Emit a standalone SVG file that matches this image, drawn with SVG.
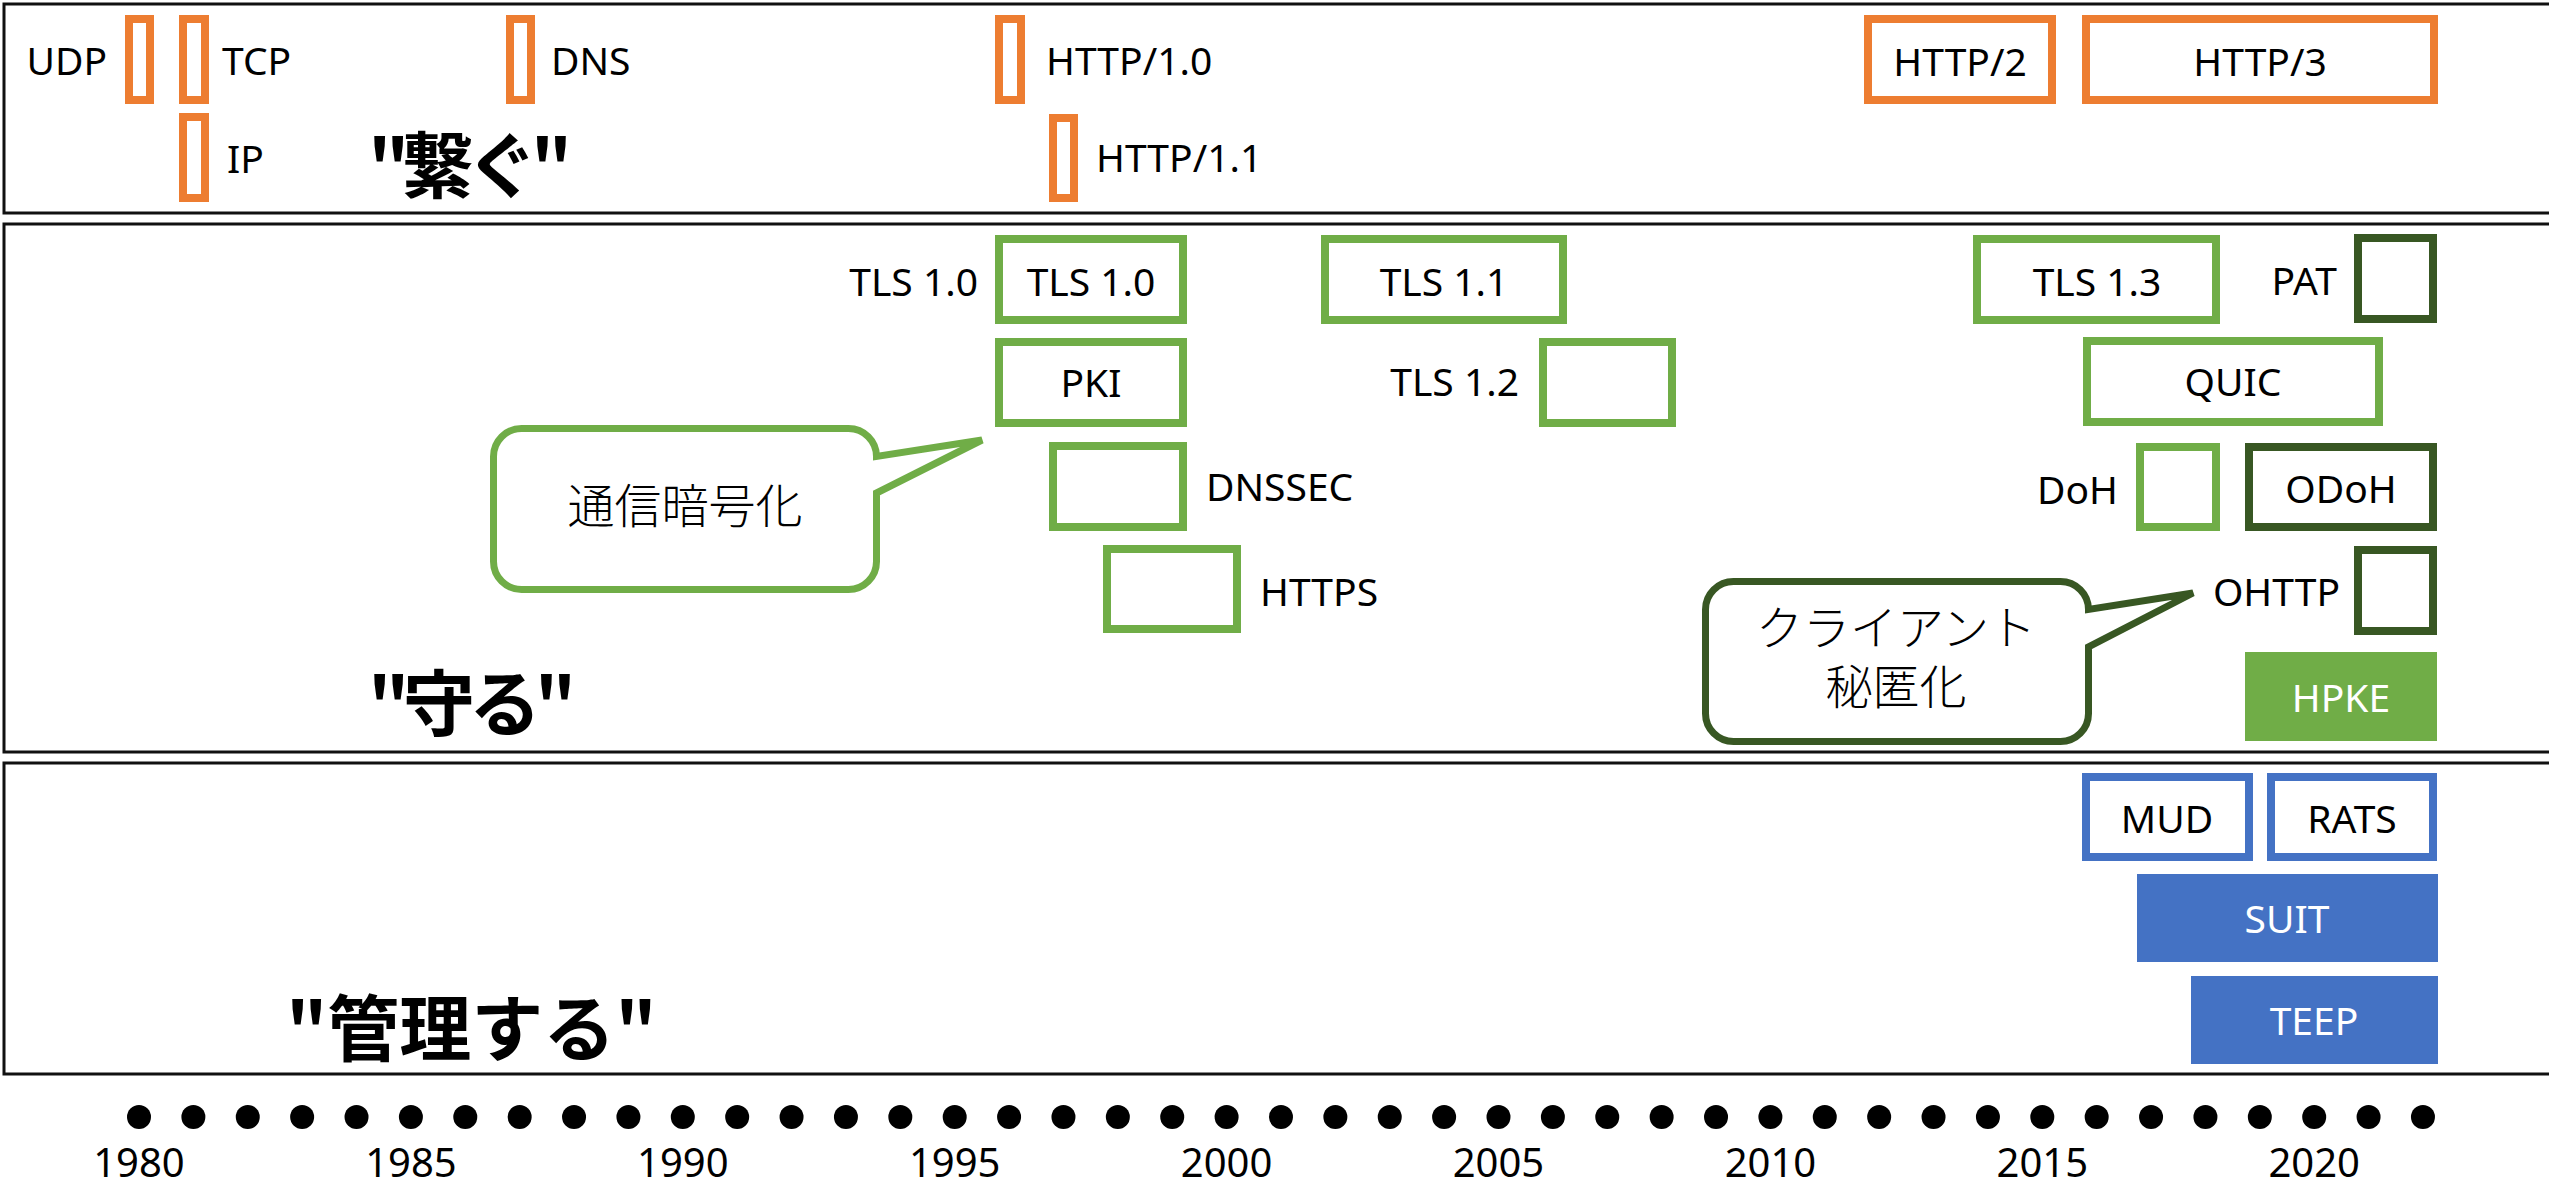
<svg xmlns="http://www.w3.org/2000/svg" width="2549" height="1187" viewBox="0 0 2549 1187">
<style>
.sec{fill:none;stroke:#111;stroke-width:3}
.or{fill:#fff;stroke:#ED7D31;stroke-width:8}
.gr{fill:#fff;stroke:#70AD47;stroke-width:8}
.dg{fill:#fff;stroke:#385723;stroke-width:8}
.bl{fill:#fff;stroke:#4472C4;stroke-width:8}
.gf{fill:#70AD47}
.bf{fill:#4472C4}
.t{font-family:"Noto Sans","Liberation Sans",sans-serif;font-size:39px;fill:#000}
.w{fill:#fff}
.c{text-anchor:middle}
.e{text-anchor:end}
.h{font-family:"Noto Sans CJK JP","Noto Sans",sans-serif;font-size:72px;font-weight:bold;fill:#000}
.j{font-family:"Noto Sans CJK JP","Noto Sans",sans-serif;font-size:47px;font-weight:300;fill:#000;text-anchor:middle}
.y{font-family:"Noto Sans","Liberation Sans",sans-serif;font-size:40px;fill:#000;text-anchor:middle}
.dot{fill:#000}
</style>
<rect width="2549" height="1187" fill="#fff"/>
<g id="sections">
<rect class="sec" x="4" y="4" width="2600" height="209"/>
<rect class="sec" x="4" y="224" width="2600" height="528"/>
<rect class="sec" x="4" y="763" width="2600" height="311"/>
<text class="h" x="368" y="192" textLength="204">"繋ぐ"</text>
<text class="h" x="368" y="730" textLength="208">"守る"</text>
<text class="h" x="286" y="1055">"管理する"</text>
</g>
<g id="connectors"></g>
<g id="udp"><rect class="or" x="129" y="19" width="21" height="81"/><text class="t e" x="107" y="75">UDP</text></g>
<g id="tcp"><rect class="or" x="183" y="19" width="22" height="81"/><text class="t" x="222" y="75">TCP</text></g>
<g id="ip"><rect class="or" x="183" y="117" width="22" height="81"/><text class="t" x="227" y="173">IP</text></g>
<g id="dns"><rect class="or" x="510" y="19" width="21" height="81"/><text class="t" x="551" y="75">DNS</text></g>
<g id="http10"><rect class="or" x="999" y="19" width="22" height="81"/><text class="t" x="1046" y="75">HTTP/1.0</text></g>
<g id="http11"><rect class="or" x="1053" y="118" width="21" height="80"/><text class="t" x="1096" y="172">HTTP/1.1</text></g>
<g id="http2"><rect class="or" x="1868" y="19" width="184" height="81"/><text class="t c" x="1960" y="76">HTTP/2</text></g>
<g id="http3"><rect class="or" x="2086" y="19" width="348" height="81"/><text class="t c" x="2260" y="76">HTTP/3</text></g>
<g id="tls10"><rect class="gr" x="999" y="239" width="184" height="81"/><text class="t c" x="1091" y="296">TLS 1.0</text><text class="t e" x="978" y="296">TLS 1.0</text></g>
<g id="pki"><rect class="gr" x="999" y="342" width="184" height="81"/><text class="t c" x="1091" y="397">PKI</text></g>
<g id="dnssec"><rect class="gr" x="1053" y="446" width="130" height="81"/><text class="t" x="1206" y="501">DNSSEC</text></g>
<g id="https"><rect class="gr" x="1107" y="549" width="130" height="80"/><text class="t" x="1260" y="606">HTTPS</text></g>
<g id="tls11"><rect class="gr" x="1325" y="239" width="238" height="81"/><text class="t c" x="1444" y="296">TLS 1.1</text></g>
<g id="tls12"><rect class="gr" x="1543" y="342" width="129" height="81"/><text class="t e" x="1519" y="396">TLS 1.2</text></g>
<g id="tls13"><rect class="gr" x="1977" y="239" width="239" height="81"/><text class="t c" x="2097" y="296">TLS 1.3</text></g>
<g id="pat"><rect class="dg" x="2358" y="238" width="75" height="81"/><text class="t e" x="2337" y="295">PAT</text></g>
<g id="quic"><rect class="gr" x="2087" y="341" width="292" height="81"/><text class="t c" x="2233" y="396">QUIC</text></g>
<g id="doh"><rect class="gr" x="2140" y="447" width="76" height="80"/><text class="t e" x="2118" y="504">DoH</text></g>
<g id="odoh"><rect class="dg" x="2249" y="447" width="184" height="80"/><text class="t c" x="2341" y="503">ODoH</text></g>
<g id="ohttp"><rect class="dg" x="2358" y="550" width="75" height="81"/><text class="t e" x="2340" y="606">OHTTP</text></g>
<g id="hpke"><rect class="gf" x="2245" y="652" width="192" height="89"/><text class="t c w" x="2341" y="712">HPKE</text></g>
<g id="callout-encrypt"><path d="M521.5 428.5 H848.5 A28 28 0 0 1 876.5 456.5 L982 440 L876.5 493 V561.5 A28 28 0 0 1 848.5 589.5 H521.5 A28 28 0 0 1 493.5 561.5 V456.5 A28 28 0 0 1 521.5 428.5 Z" fill="#fff" stroke="#70AD47" stroke-width="7" stroke-linejoin="miter"/><text class="j" x="685" y="523">通信暗号化</text></g>
<g id="callout-client"><path d="M1733.5 581.5 H2060.5 A28 28 0 0 1 2088.5 609.5 L2193 593 L2088.5 647 V713.5 A28 28 0 0 1 2060.5 741.5 H1733.5 A28 28 0 0 1 1705.5 713.5 V609.5 A28 28 0 0 1 1733.5 581.5 Z" fill="#fff" stroke="#385723" stroke-width="7"/><text class="j" x="1896" y="645">クライアント</text><text class="j" x="1896" y="704">秘匿化</text></g>
<g id="mud"><rect class="bl" x="2086" y="777" width="163" height="80"/><text class="t c" x="2167" y="833">MUD</text></g>
<g id="rats"><rect class="bl" x="2271" y="777" width="162" height="80"/><text class="t c" x="2352" y="833">RATS</text></g>
<g id="suit"><rect class="bf" x="2137" y="874" width="301" height="88"/><text class="t c w" x="2287" y="933">SUIT</text></g>
<g id="teep"><rect class="bf" x="2191" y="976" width="247" height="88"/><text class="t c w" x="2314" y="1035">TEEP</text></g>
<g id="timeline">
<circle class="dot" cx="139" cy="1117" r="12"/><circle class="dot" cx="193.38" cy="1117" r="12"/><circle class="dot" cx="247.76" cy="1117" r="12"/><circle class="dot" cx="302.14" cy="1117" r="12"/><circle class="dot" cx="356.52" cy="1117" r="12"/><circle class="dot" cx="410.9" cy="1117" r="12"/><circle class="dot" cx="465.28" cy="1117" r="12"/><circle class="dot" cx="519.66" cy="1117" r="12"/><circle class="dot" cx="574.04" cy="1117" r="12"/><circle class="dot" cx="628.42" cy="1117" r="12"/><circle class="dot" cx="682.8" cy="1117" r="12"/><circle class="dot" cx="737.18" cy="1117" r="12"/><circle class="dot" cx="791.56" cy="1117" r="12"/><circle class="dot" cx="845.94" cy="1117" r="12"/><circle class="dot" cx="900.32" cy="1117" r="12"/><circle class="dot" cx="954.7" cy="1117" r="12"/><circle class="dot" cx="1009.08" cy="1117" r="12"/><circle class="dot" cx="1063.46" cy="1117" r="12"/><circle class="dot" cx="1117.84" cy="1117" r="12"/><circle class="dot" cx="1172.22" cy="1117" r="12"/><circle class="dot" cx="1226.6" cy="1117" r="12"/><circle class="dot" cx="1280.98" cy="1117" r="12"/><circle class="dot" cx="1335.36" cy="1117" r="12"/><circle class="dot" cx="1389.74" cy="1117" r="12"/><circle class="dot" cx="1444.12" cy="1117" r="12"/><circle class="dot" cx="1498.5" cy="1117" r="12"/><circle class="dot" cx="1552.88" cy="1117" r="12"/><circle class="dot" cx="1607.26" cy="1117" r="12"/><circle class="dot" cx="1661.64" cy="1117" r="12"/><circle class="dot" cx="1716.02" cy="1117" r="12"/><circle class="dot" cx="1770.4" cy="1117" r="12"/><circle class="dot" cx="1824.78" cy="1117" r="12"/><circle class="dot" cx="1879.16" cy="1117" r="12"/><circle class="dot" cx="1933.54" cy="1117" r="12"/><circle class="dot" cx="1987.92" cy="1117" r="12"/><circle class="dot" cx="2042.3" cy="1117" r="12"/><circle class="dot" cx="2096.68" cy="1117" r="12"/><circle class="dot" cx="2151.06" cy="1117" r="12"/><circle class="dot" cx="2205.44" cy="1117" r="12"/><circle class="dot" cx="2259.82" cy="1117" r="12"/><circle class="dot" cx="2314.2" cy="1117" r="12"/><circle class="dot" cx="2368.58" cy="1117" r="12"/><circle class="dot" cx="2422.96" cy="1117" r="12"/>
<text class="y" x="139" y="1177">1980</text><text class="y" x="410.9" y="1177">1985</text><text class="y" x="682.8" y="1177">1990</text><text class="y" x="954.7" y="1177">1995</text><text class="y" x="1226.6" y="1177">2000</text><text class="y" x="1498.5" y="1177">2005</text><text class="y" x="1770.4" y="1177">2010</text><text class="y" x="2042.3" y="1177">2015</text><text class="y" x="2314.2" y="1177">2020</text>
</g>
</svg>
